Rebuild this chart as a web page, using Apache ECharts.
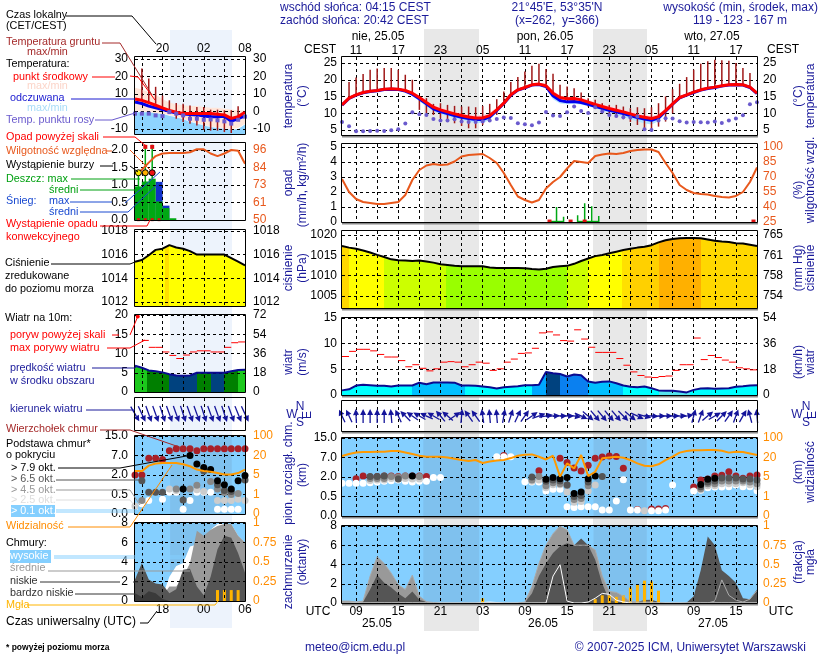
<!DOCTYPE html>
<html>
<head>
<meta charset="utf-8">
<title>meteorogram</title>
<script src="https://cdn.jsdelivr.net/npm/echarts@6/dist/echarts.min.js"></script>
<style>
html,body{margin:0;padding:0;background:#fff}
#main{width:820px;height:660px}
</style>
</head>
<body>
<div id="main"></div>
<script>
// --- short panel (left): idx 0 = 14 UTC ... idx 16 = 06 UTC
var leftGridIdx = [1,4,7,10,13];
var leftTickIdx = [4,10,16];
var leftCest = ['20','02','08'];
var leftUtc = ['18','00','06'];
// --- long panel (right): idx 0 = 07 UTC 25.05 ... idx 59 = 18 UTC 27.05
var rightGridIdx = [2,5,8,11,14,17,20,23,26,29,32,35,38,41,44,47,50,53,56];
var rightTickIdx = [2,8,14,20,26,32,38,44,50,56];
var rightCest = ['11','17','23','05','11','17','23','05','11','17'];
var rightUtc = ['09','15','21','03','09','15','21','03','09','15'];
var baseLabels = ['0.0','0.5','2.0','7.0','15.0'];   // five even steps of the height scale
var visLabels = ['0','1','5','20','100'];

// temperature
var tempL = [7,6.3,5,3.5,2,0.6,-0.5,-1.2,-1.2,-1.2,-1.2,-1.2,-1.6,-2,-4,-3,-0.5];
var feelL = [5.3,4.5,3,2,1,0.1,-1,-1.5,-1.8,-2,-2.7,-3,-3,-2.8,-5.6,-4.2,-2.5];
var tempHiL = [13.5,12.5,11,9.5,7,5,4,3.5,3,3,2.5,2,2,1.5,1,0.5,0.5];
var tempLoL = [0,0,-0.5,-1,-1.5,-2,-3,-4,-5.5,-6.5,-7.5,-8.5,-9,-9.5,-10,-9.5,-7];
var feelHiL = [-0.5,-0.5,-0.5,-1,-1.5,-2.5,-3.5,-4.5,-6,-7,-8,-9,-9.5,-10,-10.5,-10,-7.5];
var feelLoL = [-13,-13,-13,-13,-13,-13,-13,-13,-13,-13,-13,-13,-13,-13,-13,-13,-13];
var dewL = [-1.3,-1.3,-1.3,-2.3,-2.7,-0.4,-1.3,-2.3,-4.2,-4.2,-4.8,-4.6,-5.1,-5.7,-7,-4.8,-3];
var groundMaxL = [null,24.4,18.7,14,9,6.3,4.8,4.4,3.4,2.5,2.5,1,1,0.6,0.6,2.9,null];
var groundMinL = [null,7,5.3,4.3,2.5,-1.3,-4.2,-6,-7,-8,-10.5,-11,-11,-11.8,-12.4,-5.1,null];

var tempR = [12.5,14.5,15.5,16.2,16.6,16.8,17.2,17.3,17.2,16.8,16,14.7,13.2,11.8,11,10.4,9.8,9.3,8.9,8.6,8.6,9.3,11,13,15.5,17,17.7,18.5,18.7,18.2,16,14.7,14.3,14.4,14,13.3,12.6,12,11.4,10.9,10.4,9.8,9.2,8.8,8.4,9,10.8,12.8,14.7,15.5,16.3,17,17.5,17.8,18.2,18.5,18.6,18.5,17.8,16];
var feelR = [12.4,14.4,15.4,16.1,16.5,16.7,17.1,17.2,17.1,16.6,15.7,14.3,12.8,11.3,10.5,9.9,9.3,8.8,8.4,8.1,8.1,8.9,10.8,12.9,15.4,16.9,17.6,18.4,18.6,18,15.2,13.8,13.4,13.5,13.2,12.7,12.1,11.5,10.9,10.4,9.9,9.3,8.7,8.3,7.9,8.6,10.6,12.7,14.6,15.4,16.2,16.9,17.4,17.7,18.1,18.4,18.5,18.4,17.7,15.9];
var tempHiR = [13,15,16,16.6,17,17.2,17.5,17.6,17.5,17.1,16.4,15.2,13.9,12.6,11.8,11.2,10.6,10.1,9.7,9.4,9.5,10.2,11.7,13.6,16,17.4,18.1,18.9,19.1,18.8,16.8,15.2,14.9,15,14.6,14,13.3,12.7,12.2,11.7,11.2,10.6,10,9.6,9.2,9.8,11.5,13.3,15.1,15.9,16.6,17.3,17.8,18.1,18.5,18.8,18.9,18.8,18.2,16.3];
var feelLoR = [12.2,14.2,15.2,15.9,16.3,16.5,16.9,17,16.9,16.3,15.2,13.6,12,10.6,9.8,9.1,8.5,8,7.5,7.1,7.1,8,10.2,12.6,15.2,16.7,17.4,18.2,18.4,17.5,14.2,12.9,12.7,12.8,12.6,12.1,11.5,10.8,10.1,9.5,8.9,8.2,7.5,7,6.6,7.6,10.1,12.5,14.4,15.2,16,16.7,17.2,17.5,17.9,18.2,18.3,18.2,17.5,15.7];
var dewR = [7.4,6.1,4.6,4.6,4.7,4.8,4.7,4.9,5.2,6.9,10.3,9.7,9.5,8.3,7.8,7.8,8.2,7.5,7.4,7.4,7.5,7.8,8.3,8.7,8.6,7,6.7,6.4,7.2,10.4,9.3,9.2,10.3,12,10.7,10.1,11.8,10.5,9.5,9.2,8.8,8.7,9,5.2,5,7.8,8.5,8.4,7.6,7.2,7.4,7.3,7.2,7.5,7.1,7.8,8.4,9.4,12.7,13.3];
var groundMaxR = [null,19.3,20.7,21.7,23,23.4,23.5,23.5,23,21.5,20,14,14.5,12.8,13,12.5,12.2,12,12,11.8,12.2,12.8,14.2,16.5,19.3,20.8,22.5,24.2,24.8,23.2,21.8,18.5,18,17.5,16.2,14.5,14,13,12.5,12.5,12,11.5,11.8,11.5,11.8,13,15,17.2,18.8,20.8,23,24.8,25.5,26,25.8,25.7,25,23.5,22,null];
var groundMinR = [null,14.5,15.5,16.2,16.6,16.8,17.2,17.3,17.2,16.8,16,11,10,9.5,8.5,7.8,7,6.2,5.5,5.5,6.5,7.5,9.5,13,15.5,17,17.7,18.5,18.7,18.2,16,14.7,14.3,14.4,14,12,11.5,10.5,9.5,8.8,8.2,7.4,6.5,5.5,4.8,6,7.5,10,14.7,15.5,16.3,17,17.5,17.8,18.2,18.5,18.6,18.5,17.8,null];

// precipitation and humidity
var humL = [80.7,83,87.7,92,93.7,94,94,94,94.5,96.5,96.5,93.7,92,93.7,96,95.5,87];
var rainBarsL = [[0.5,0.96],[1.5,1.1],[2.5,1.18],[3.5,0.53],[4.5,0.34],[5.5,0.05]];
var snowBarsL = [[3.5,1.09],[4.5,0.41]];
var rainMaxL = [[0.5,1.35],[1.5,2.15],[2.5,2.15]];
var overScaleL = [[1.5,2.09],[2.5,2.09]];
var stormL = [[0.5,1.35,'#ffe600'],[1.5,1.35,'#ffb000'],[2.5,1.35,'#ee1111']];
var convL = [[0.5,0.01],[1.5,0.01],[2.5,0.01],[3.5,0.01]];
var humR = [68,55,48,45,44,43,43,44,45,52,67,77,81.5,83,82,82.5,85.5,90.5,92,92.5,93,89,84,74,62,50.5,47,44.5,47,58.5,65,70,78.5,86,85,84,91,92.5,93.5,93,94,96,97,97.5,97.5,95,84,74,62,57,54,53,52.5,51,50,49.5,51,55,65,79.5];
var rainMaxR = [[30.5,1],[31.5,0.35],[33.5,0.45],[34.5,1.25],[35.5,1.05],[36.5,0.4]];
var rainBarsR = [[30,0.08],[31,0.08],[34,0.08],[35,0.08],[36,0.08]];
var convR = [[29.5,0.03],[32.5,0.03],[34.5,0.03],[58.5,0.03]];

// pressure
var presL = [1015.4,1015.55,1015.95,1016.4,1016.5,1016.8,1016.6,1016.5,1016.3,1016,1016,1016,1016,1016,1015.7,1015.4,1015.1];
var presR = [1017.3,1016.9,1016.6,1016.2,1015.7,1015.1,1014.6,1014,1013.8,1013.7,1013.6,1013.7,1013.5,1013.2,1012.8,1012.6,1012.4,1012.3,1012.3,1012.3,1012.3,1012,1011.9,1011.9,1011.9,1011.9,1011.8,1011.6,1011.5,1011.7,1012.1,1012.3,1012.4,1012.9,1013.6,1014.2,1014.8,1015.1,1015.5,1015.9,1016.3,1016.6,1016.9,1017.1,1017.5,1018.2,1018.7,1019,1019.2,1019.3,1019.3,1019.2,1018.9,1018.6,1018.4,1018.3,1018,1017.9,1017.6,1017.3];

// wind
var windL = [6.8,6.3,5.6,5.4,5.1,4.6,4.3,4.2,4.3,5,5,5,5,5,5.4,5.7,5.8];
var gustL = [null,13.4,11.6,11.6,10.4,9.5,8.7,9.6,10.4,10.7,10.7,10.4,10.4,11.6,12.8,13];
var gustOverL = [[0.4,19.6]];
var windR = [0.9,1.1,1.85,2,1.9,1.8,1.8,1.65,1.85,1.85,1.85,2.4,2.1,2.45,2.45,2.45,2.4,1.85,1.85,1.8,1.65,1.5,1.25,1.5,1.6,1.7,1.9,1.9,2,4.5,4.25,4.1,3.6,4,3.85,2.65,2.4,2.6,2.65,2.3,1.85,1.6,1.5,1.65,1.3,0.9,0.85,0.85,0.7,0.5,1,1.25,1.3,1.2,1.25,1.3,1.6,1.7,1.85,1.9];
var gustR = [7.5,8.5,8.9,8.9,8.6,7.9,7.4,7.4,6.7,5.5,5.9,5.2,4.7,5.1,6.4,6.5,6.4,5.5,5.9,6.4,6.2,4.8,5.1,6.4,7,8.1,8.2,9.1,12.1,12.3,11.7,10.6,10.5,12.7,10.9,9.3,8.3,8.3,8.3,7.1,5.8,4.5,3.8,3.5,3.4,3.6,3.7,4.8,5.9,5.9,11.1,6.9,7.7,7.3,6.8,6.4,5.3,5.1,4.9];
var dirL = [150,155,160,160,162,160,160,162,160,160,162,160,160,162,160,158,155];
var dirR = [-25,-25,-3,0,0,0,0,-5,-25,-45,-55,-60,-65,-60,-40,-50,55,5,-35,-35,-8,-5,-5,10,18,25,35,55,70,80,85,87,90,100,115,130,140,140,140,140,135,130,115,105,95,90,88,88,85,80,15,20,50,60,45,35,20,30,-15,-5];

// cloud base levels (position on the five step height scale) and visibility
var visL = [2.2,2.2,2.48,2.59,2.62,2.62,2.62,2.55,2.45,2.28,2.2,2.17,2.1,2.03,2.03,2.1,2.28];
var visR = [3.08,3.18,3.26,3.28,3.28,3.3,3.3,3.33,3.33,3.26,3.18,3.09,3.04,3.04,3.04,3,2.94,2.87,2.82,2.87,2.72,2.8,2.85,2.87,2.97,3.09,3.14,3.16,3.04,2.9,3.09,2.02,2.7,2.44,3.13,2.05,2.27,2.96,3,3.04,2.99,2.87,2.7,2.58,2.55,2.65,2.87,3.04,3.25,3.33,3.37,3.37,3.38,3.38,3.35,3.25,3.3,3.28,3.21,3.13];
var topsL = [[0,2],[1,2],[2,2.86],[3,2.86],[4,2.79],[5,3.24],[6,3.34],[7,3.34],[8,3.34],[9,3.24],[10,3.34],[11,3.34],[12,3.34],[13,3.34],[14,3.34],[15,3.34],[16,3.34]];
var base79L = [[7,1.28],[8,3],[9,2.57],[10,2.38],[11,2.28],[12,1.71],[13,1.5],[14,1.28],[15,1.71],[16,1.97]];
var base65L = [[1,1.71],[2,1.12],[3,1.12],[4,1.12],[7,0.72],[10,2.2],[12,1.5],[13,1.2],[14,1.15],[16,1.75]];
var base45L = [[1,0.69],[6,1.28],[8,1.28],[9,1.47],[11,1.67],[12,1.28],[13,1.1],[14,1],[15,1.05]];
var base25L = [[0,0.41],[5,1.28],[6,1.2],[9,1.25],[10,1.15],[12,0.69],[13,0.69],[14,0.69],[15,0.76],[16,0.69]];
var base01L = [[1,0.52],[2,0.69],[4,0.76],[5,1.12],[6,1.12],[7,0.24],[8,0.69],[9,1.12],[10,1.12],[11,1.12],[12,0.24],[13,0.24],[14,0.24],[15,0.24]];
var topsR = [[2,1.91],[3,2.05],[4,2],[5,2.02],[6,2.05],[7,2.05],[8,2.02],[9,2.05],[10,2.05],[11,2.05],[12,2.02],[23,3.1],[28,2.32],[31,2.96],[32,2.74],[33,2.46],[34,2.31],[35,2.6],[36,2.96],[37,3.03],[38,3.08],[39,3.05],[40,2.45],[42,0.33],[44,0.36],[45,0.36],[46,0.39],[50,1.49],[51,1.85],[52,1.9],[53,2.05],[54,2.09],[55,2.27],[56,2.05],[57,1.93],[58,2.05],[59,2.1]];
var base79R = [[10,2.05],[29,1.88],[30,1.97],[31,1.91],[32,1.97],[33,1.16],[34,1.23],[35,1.91],[36,2.05],[51,1.62],[52,1.88],[53,1.93]];
var base65R = [[4,2.02],[5,2.02],[6,2.05],[8,1.9],[27,2],[29,1.78],[30,1.85],[31,1.8],[32,1.6],[33,1],[34,1.05],[35,1.75],[37,2.02],[51,1.5],[52,1.75],[53,1.8],[54,1.95],[55,1.95],[56,1.95],[57,1.9],[58,1.9],[59,1.85]];
var base45R = [[4,1.92],[5,1.92],[6,1.92],[7,2.02],[8,2],[9,2.05],[11,2.02],[27,1.85],[28,2.02],[29,1.55],[30,1.7],[31,1.66],[32,1.57],[33,0.85],[34,0.9],[35,1.55],[51,1.4],[52,1.65],[53,1.66],[54,1.8],[55,1.8],[56,1.8],[57,1.8],[58,1.75],[59,1.65]];
var base25R = [[4,1.82],[5,1.85],[6,1.85],[7,1.92],[8,1.9],[9,1.92],[10,1.9],[11,1.9],[27,1.78],[28,1.85],[29,1.45],[30,1.6],[31,1.6],[32,1.23],[33,0.7],[34,0.75],[35,1.28],[36,1.59],[43,0.27],[51,1.35],[52,1.55],[53,1.55],[54,1.66],[55,1.66],[56,1.66],[57,1.7],[58,1.6],[59,1.5]];
var base01R = [[0,1.68],[1,1.68],[2,1.68],[3,1.68],[4,1.71],[5,1.74],[6,1.78],[7,1.81],[8,1.85],[9,1.78],[10,1.74],[11,1.78],[12,1.78],[13,1.97],[14,1.97],[22,3.04],[23,3.04],[24,3.04],[26,1.76],[27,1.74],[28,1.74],[29,1.28],[30,1.37],[31,1.37],[32,0.48],[33,0.43],[34,0.48],[35,0.48],[36,0.48],[37,0.31],[38,0.31],[39,0.77],[40,1.86],[41,0.31],[42,0.31],[44,0.27],[45,0.27],[46,0.31],[47,1.59],[50,1.28],[51,1.32],[52,1.45],[53,1.49],[54,1.49],[55,1.5],[56,1.59],[57,1.5],[58,1.5],[59,1.3]];

// cloud cover (oktas) and mist fraction
var highL = [0,0,0,0,0.5,2.5,3.6,3.9,5.6,5.8,6,7.3,7.9,7.9,7.9,6.7,6];
var midL = [0,0,0,0,0.5,1.5,1.5,2.5,3.9,7.2,6.7,7.3,7.7,7.9,7.9,6.7,6];
var lowL = [2.2,3.9,2.2,1.8,1.7,0.8,1.2,3.2,3.3,1.5,0.6,2.5,5.3,6.7,6.5,4.9,2.9];
var veryLowL = [0.8,0.4,1,0.8,0.2,0,0,0,0,0,0,0,0,0,0,0,0];
var mistL = [[12,0.14],[13,0.14],[14,0.14],[15,0.14]];
var highR = [0,0,0,0,0,0,0,0,0,0,0,0,0,0,0,0,0,0,0,0,0.05,0.1,0.05,0,0,0,0,0,0,0,2.8,4,0.2,0,0,0.1,0.5,1,0.9,0.3,0.1,0,0,0,0,0,0,0,0,0,0,0,0,0,0,0,0,0,0,0];
var midR = [0.2,0.2,0.1,0.2,2.8,4.8,4.1,3.1,1.9,1.4,2.9,0.7,0.14,0.05,0,0,0,0,0,0,0,0,0,0,0,0,0.1,1.7,4.1,6,7.2,8,7.6,6,6,6,5.5,2.8,1.2,1.1,0.7,0.15,0.1,0.1,0.1,0,0,0,0,0,0,0,0,0.2,2.4,0.8,0.3,0.1,0.4,1.3];
var lowR = [0.1,0.1,0,0.1,1.4,2.9,2.1,1.6,1,0.5,1.2,0.35,0.1,0,0,0,0,0,0,0,0,0,0,0,0,0,0.05,1,2.8,4.1,5.2,5.9,6.2,6,6.7,6,4.5,2,0.3,0.1,0.1,0.1,0.1,0.3,0.35,0.1,0,0,0,0.05,0.7,3.4,6.9,6,3.4,2.8,2.1,0.5,0.4,1.4];
var mistR = [[20,0.06],[36,0.05],[37,0.1],[38,0.1],[39,0.08],[40,0.1],[41,0.2],[42,0.24],[43,0.29],[44,0.28],[45,0.16]];

// colour bands, [first idx, colour]
var presBandsL = [[0,'#ffff00'],[4.4,'#ffe000'],[5,'#ffff00']];
var presBandsR = [[0,'#ffd800'],[1,'#ffff00'],[6,'#ccff00'],[14.8,'#99ff00'],[32,'#ccff00'],[35,'#ffff00'],[39.8,'#ffe000'],[41,'#ffd000'],[45,'#ffb000'],[51,'#ffd800']];
var windBandsL = [[0,'#1cc81c'],[1.8,'#007f00'],[5,'#00427f'],[9,'#007f00'],[11,'#00427f'],[13,'#007f00'],[15,'#1cc81c']];
var windBandsR = [[0,'#00ffff'],[10,'#00bfff'],[17.5,'#00ffff'],[27,'#00a8ff'],[29,'#00427f'],[31,'#0a80f0'],[35,'#00bfff'],[40,'#00ffff'],[45,'#55e4ee'],[49.5,'#00ffff']];
// dark part of the day, [from idx, to idx]
var nightL = [[5.1,14.07]];
var nightR = [[11.56,19.49],[35.75,43.34]];

var FONT = '"Liberation Sans", Arial, sans-serif';
var NAVY = '#1a1a9a';
var ORANGE = '#ff8c00';
var HUM = '#e8581c';
function whole(v){ return String(Math.floor(v)); }
function oneDec(v){ return v.toFixed(1); }
function fromList(list){ return function(v){ return list[v]; }; }

var panels = {
  lT:{left:135,right:245,top:57,bottom:134,n:16,yMin:-12.9,yMax:31,yTicks:[-10,0,10,20,30],labels:leftCest,pos:'top'},
  lR:{left:135,right:245,top:143,bottom:220,n:16,yMin:0,yMax:2.2,yTicks:[0,0.5,1,1.5,2],yFmt:oneDec,y2Min:50,y2Max:100.6,y2Ticks:[50,61.5,73,84.5,96],y2Color:HUM},
  lP:{left:135,right:245,top:230,bottom:306,n:16,yMin:1011.66,yMax:1018.08,yTicks:[1012,1014,1016,1018]},
  lW:{left:135,right:245,top:315,bottom:392,n:16,yMin:0,yMax:20,yTicks:[0,5,10,15,20],y2Min:0,y2Max:72,y2Ticks:[0,18,36,54,72]},
  lD:{left:135,right:245,top:398,bottom:430,n:16,yMin:-1,yMax:1,noY:true},
  lB:{left:135,right:245,top:436,bottom:514,n:16,yMin:0,yMax:4,yTicks:[0,1,2,3,4],yFmt:fromList(baseLabels),y2Min:0,y2Max:4,y2Ticks:[0,1,2,3,4],y2Fmt:fromList(visLabels),y2Color:ORANGE,sky:true},
  lC:{left:135,right:245,top:523,bottom:601,n:16,yMin:0,yMax:8,yTicks:[0,2,4,6,8],y2Min:0,y2Max:1,y2Ticks:[0,0.25,0.5,0.75,1],y2Fmt:String,y2Color:ORANGE,sky:true,labels:leftUtc,pos:'bottom'},
  rT:{left:342,right:757,top:57,bottom:135,n:59,yMin:3.5,yMax:26.8,yTicks:[5,10,15,20,25],labels:rightCest,pos:'top'},
  rR:{left:342,right:757,top:144,bottom:222,n:59,yMin:0,yMax:5.2,yTicks:[0,1,2,3,4,5],y2Min:25,y2Max:103,y2Ticks:[25,40,55,70,85,100],y2Color:HUM},
  rP:{left:342,right:757,top:231,bottom:308,n:59,yMin:1002,yMax:1021,yTicks:[1005,1010,1015,1020],y2Min:751.56,y2Max:765.81,y2Ticks:[753.8,757.6,761.3,765.06],y2Fmt:function(v){return String(Math.round(v));}},
  rW:{left:342,right:757,top:318,bottom:395,n:59,yMin:0,yMax:15,yTicks:[0,5,10,15],y2Min:0,y2Max:54,y2Ticks:[0,18,36,54]},
  rD:{left:342,right:757,top:401,bottom:431,n:59,yMin:-1,yMax:1,noY:true},
  rB:{left:342,right:757,top:438,bottom:516,n:59,yMin:0,yMax:4,yTicks:[0,1,2,3,4],yFmt:fromList(baseLabels),y2Min:0,y2Max:4,y2Ticks:[0,1,2,3,4],y2Fmt:fromList(visLabels),y2Color:ORANGE,sky:true},
  rC:{left:342,right:757,top:526,bottom:603,n:59,yMin:0,yMax:8,yTicks:[0,2,4,6,8],y2Min:0,y2Max:1,y2Ticks:[0,0.25,0.5,0.75,1],y2Fmt:String,y2Color:ORANGE,sky:true,labels:rightUtc,pos:'bottom'}
};

var grids = [], xAxes = [], yAxes = [], series = [], elements = [];
Object.keys(panels).forEach(function(key, i){
  var p = panels[key];
  var isLeft = key.charAt(0) == 'l';
  p.i = i;
  var gridIdx = isLeft ? leftGridIdx : rightGridIdx;
  var tickIdx = isLeft ? leftTickIdx : rightTickIdx;
  grids.push({left:p.left,top:p.top,width:p.right-p.left,height:p.bottom-p.top,show:!!p.sky,backgroundColor:'#84cfff',borderWidth:0});
  xAxes.push({
    gridIndex:i,type:'value',min:0,max:p.n,position:p.pos||'bottom',z:3,silent:true,
    axisLine:{show:false},
    axisTick:{show:false,customValues:gridIdx},
    splitLine:{show:true,lineStyle:{type:[3,3],color:'#000',width:1}},
    axisLabel:p.labels ? {
      show:true,customValues:tickIdx,margin:p.pos=='top'?(isLeft?2:0):3,fontFamily:FONT,fontSize:12,color:'#000',
      formatter:function(v){ return p.labels[tickIdx.indexOf(v)]; }
    } : {show:false}
  });
  var mar1 = isLeft ? 7 : 5, mar2 = isLeft ? 8 : 6;
  yAxes.push({
    gridIndex:i,type:'value',min:p.yMin,max:p.yMax,position:'left',z:3,silent:true,
    axisLine:{show:false},
    axisTick:{show:false,customValues:p.yTicks||[]},
    splitLine:{show:!p.noY,lineStyle:{type:[3,3],color:'#000',width:1}},
    axisLabel:p.noY ? {show:false} : {show:true,customValues:p.yTicks,margin:mar1,fontFamily:FONT,fontSize:12,color:'#000',formatter:p.yFmt||String}
  });
  var t2 = p.y2Ticks || p.yTicks;
  yAxes.push({
    gridIndex:i,type:'value',min:p.y2Min!==undefined?p.y2Min:p.yMin,max:p.y2Max!==undefined?p.y2Max:p.yMax,position:'right',z:3,silent:true,
    axisLine:{show:false},axisTick:{show:false},splitLine:{show:false},
    axisLabel:p.noY ? {show:false} : {show:true,customValues:t2,margin:mar2,fontFamily:FONT,fontSize:12,color:p.y2Color||'#000',formatter:p.y2Fmt||(p.y2Ticks?whole:String)}
  });
  // panel frame above the fills
  elements.push({type:'rect',z:10,silent:true,shape:{x:p.left-0.5,y:p.top-0.5,width:p.right-p.left+1,height:p.bottom-p.top+1},style:{fill:null,stroke:'#000',lineWidth:1}});
  if(!isLeft){
    elements.push({type:'line',z:9,silent:true,shape:{x1:p.left,y1:p.bottom+1.5,x2:p.right+1,y2:p.bottom+1.5},style:{stroke:'#888',lineWidth:2}});
  }
});

function pairs(arr){ return arr.map(function(v,i){ return [i,v]; }); }
function axisRef(p, second){ return {xAxisIndex:p.i,yAxisIndex:p.i*2+(second?1:0)}; }
function addLine(p, arr, color, width, second){
  series.push(Object.assign(axisRef(p,second),{type:'line',data:pairs(arr),showSymbol:false,symbol:'none',z:5,silent:true,lineStyle:{color:color,width:width}}));
}
function addArea(p, arr, fill, z){
  series.push(Object.assign(axisRef(p),{type:'line',data:pairs(arr),showSymbol:false,symbol:'none',z:z||1,silent:true,lineStyle:{width:0},areaStyle:{color:fill,opacity:1,origin:'start'}}));
}
function addBand(p, lo, hi, fill){
  series.push(Object.assign(axisRef(p),{
    type:'custom',z:1,clip:true,silent:true,data:[[0,lo[0]]],
    renderItem:function(params, api){
      var pts = [], i;
      for(i=0;i<hi.length;i++) pts.push(api.coord([i,hi[i]]));
      for(i=lo.length-1;i>=0;i--) pts.push(api.coord([i,lo[i]]));
      return {type:'polygon',shape:{points:pts},style:{fill:fill}};
    }
  }));
}
function addSpans(p, spans, fill){
  series.push(Object.assign(axisRef(p),{
    type:'custom',z:0,clip:true,silent:true,encode:{x:[0,1],y:2},
    data:spans.map(function(s){ return [s[0],s[1],p.yMin]; }),
    renderItem:function(params, api){
      var a = api.coord([api.value(0),p.yMax]), b = api.coord([api.value(1),p.yMin]);
      return {type:'rect',shape:{x:a[0],y:a[1],width:b[0]-a[0],height:b[1]-a[1]},style:{fill:fill}};
    }
  }));
}
// [x0,y0,x1,y1] segments: ground temp ranges, gust dashes, rain stems
function addSegs(p, segs, color, width, z){
  series.push(Object.assign(axisRef(p),{
    type:'custom',z:z||4,clip:true,silent:true,encode:{x:[0,2],y:[1,3]},data:segs,
    renderItem:function(params, api){
      var a = api.coord([api.value(0),api.value(1)]), b = api.coord([api.value(2),api.value(3)]);
      return {type:'line',shape:{x1:a[0],y1:a[1],x2:b[0],y2:b[1]},style:{stroke:color,lineWidth:width}};
    }
  }));
}
function addDots(p, data, color, size, symbol, second, z){
  series.push(Object.assign(axisRef(p,second),{type:'scatter',data:data,symbol:symbol||'circle',symbolSize:size,z:z||4,silent:true,clip:true,itemStyle:{color:color,opacity:1}}));
}
function addBars(p, data, color, width, second){
  series.push(Object.assign(axisRef(p,second),{type:'bar',data:data,barWidth:width,barGap:'-100%',z:2,silent:true,clip:true,itemStyle:{color:color}}));
}
function addArrows(p, dirs, len){
  series.push(Object.assign(axisRef(p),{
    type:'custom',z:6,clip:false,silent:true,encode:{x:0,y:2},
    data:dirs.map(function(d,i){ return [i,d,0]; }),
    renderItem:function(params, api){
      var c = api.coord([api.value(0),0]), a = api.value(1)*Math.PI/180;
      var dx = Math.sin(a), dy = -Math.cos(a), h = len/2;
      var tail = [c[0]-dx*h,c[1]-dy*h], tip = [c[0]+dx*h,c[1]+dy*h];
      var neck = [tip[0]-dx*6,tip[1]-dy*6];
      return {type:'group',children:[
        {type:'line',shape:{x1:tail[0],y1:tail[1],x2:neck[0],y2:neck[1]},style:{stroke:'#14149a',lineWidth:1.3}},
        {type:'polygon',shape:{points:[tip,[neck[0]-dy*3,neck[1]+dx*3],[neck[0]+dy*3,neck[1]-dx*3]]},style:{fill:'#14149a'}}
      ]};
    }
  }));
}
function rangeSegs(lo, hi){
  var out = [];
  hi.forEach(function(v,i){ if(v!==null) out.push([i,lo[i],i,v]); });
  return out;
}
function dashSegs(arr){
  var out = [];
  arr.forEach(function(v,i){ if(v!==null) out.push([i,v,i+1,v]); });
  return out;
}
function stemSegs(arr){ return arr.map(function(d){ return [d[0],0,d[0],d[1]]; }); }
function bandFill(bands, n){
  var stops = [];
  bands.forEach(function(b,k){
    var end = k+1<bands.length ? bands[k+1][0] : n;
    stops.push({offset:b[0]/n,color:b[1]},{offset:end/n,color:b[1]});
  });
  return new echarts.graphic.LinearGradient(0,0,1,0,stops);
}

var P = panels;
// temperature
addBand(P.lT,tempLoL,tempHiL,'#ffe6da');
addBand(P.lT,feelLoL,feelHiL,'#8ed4ff');
addSegs(P.lT,rangeSegs(groundMinL,groundMaxL),'#a01818',1.5);
addLine(P.lT,feelL,'#0000ee',3);
addLine(P.lT,tempL,'#ff0000',3);
addDots(P.lT,pairs(dewL),'#6a5acd',4,'rect',false,6);
addBand(P.rT,tempR,tempHiR,'#ffd8e0');
addBand(P.rT,feelLoR,feelR,'#b4e4ff');
addSegs(P.rT,rangeSegs(groundMinR,groundMaxR),'#a01818',1.5);
addLine(P.rT,feelR,'#0000ee',3);
addLine(P.rT,tempR,'#ff0000',3);
addDots(P.rT,pairs(dewR),'#6a5acd',4,'circle',false,6);
// precipitation
addBars(P.lR,snowBarsL,'#1030c8',7);
addBars(P.lR,rainBarsL,'#00a814',7);
addSegs(P.lR,stemSegs(rainMaxL),'#00a814',1.5);
addDots(P.lR,overScaleL,'#e01010',4,'rect');
addDots(P.lR,convL,'#e01010',3,'rect',false,6);
stormL.forEach(function(s){
  series.push(Object.assign(axisRef(P.lR),{type:'scatter',data:[[s[0],s[1]]],symbolSize:6,z:7,silent:true,itemStyle:{color:s[2],borderColor:'#000',borderWidth:1,opacity:1}}));
});
addLine(P.lR,humL,HUM,2,true);
addBars(P.rR,rainBarsR,'#00a814',7);
addSegs(P.rR,stemSegs(rainMaxR),'#00a814',1.5);
addDots(P.rR,convR,'#e01010',4,'rect',false,6);
addLine(P.rR,humR,HUM,2,true);
// pressure
addArea(P.lP,presL,bandFill(presBandsL,16));
addLine(P.lP,presL,'#000',2);
addArea(P.rP,presR,bandFill(presBandsR,59));
addLine(P.rP,presR,'#000',2);
// wind
addArea(P.lW,windL,bandFill(windBandsL,16));
addLine(P.lW,windL,'#0a0a90',2);
addSegs(P.lW,dashSegs(gustL),'#ff0000',1);
addDots(P.lW,gustOverL,'#ff0000',4,'circle');
addArea(P.rW,windR,bandFill(windBandsR,59));
addLine(P.rW,windR,'#0a0a90',2);
addSegs(P.rW,dashSegs(gustR),'#ff0000',1);
addArrows(P.lD,dirL,17);
addArrows(P.rD,dirR,14);
// cloud base
function addBases(p, night, tops, b79, b65, b45, b25, b01, vis){
  addSpans(p,night,'rgba(100,100,120,0.13)');
  addDots(p,tops,'#a82028',7);
  addDots(p,b01,'#ffffff',7);
  addDots(p,b25,'#cccccc',7);
  addDots(p,b45,'#888888',7);
  addDots(p,b65,'#555555',7);
  addDots(p,b79,'#000000',7);
  addLine(p,vis,'#ff9900',2);
}
addBases(P.lB,nightL,topsL,base79L,base65L,base45L,base25L,base01L,visL);
addBases(P.rB,nightR,topsR,base79R,base65R,base45R,base25R,base01R,visR);
// clouds
addSpans(P.lC,nightL,'rgba(100,100,120,0.13)');
addArea(P.lC,highL,'#ffffff');
addArea(P.lC,midL,'#999999');
addArea(P.lC,lowL,'#555555');
addArea(P.lC,veryLowL,'#3a3a3a');
addBars(P.lC,mistL,'#ffb400',3,true);
addSpans(P.rC,nightR,'rgba(100,100,120,0.13)');
addArea(P.rC,highR,'#ffffff');
addArea(P.rC,midR,'#999999');
addArea(P.rC,lowR,'#555555');
addLine(P.rC,highR,'#ffffff',1);
addLine(P.rC,midR,'#aaaaaa',1);
addBars(P.rC,mistR,'#ffb400',3,true);

// page backdrops behind the panels
elements.push({type:'rect',z:-5,silent:true,shape:{x:170,y:30,width:62,height:598},style:{fill:'#edf3fc'}});
elements.push({type:'rect',z:-5,silent:true,shape:{x:424,y:29,width:55,height:602},style:{fill:'#e8e8e8'}});
elements.push({type:'rect',z:-5,silent:true,shape:{x:593,y:29,width:54,height:602},style:{fill:'#e8e8e8'}});

function txt(text, x, y, color, align, size, rot, weight){
  elements.push({type:'text',x:x,y:y,rotation:rot||0,z:12,silent:true,style:{
    text:text,fill:color||'#000',align:align||'left',verticalAlign:'middle',textAlign:align||'left',textVerticalAlign:'middle',
    font:(weight?weight+' ':'')+(size||12)+'px '+FONT
  }});
}
// left legend wording runs a little narrower than the header
function leg(text, x, y, color){ txt(text,x,y,color,'left',10.8); }
function lead(points, color, width){
  elements.push({type:'polyline',z:11,silent:true,shape:{points:points},style:{stroke:color,lineWidth:width||1,fill:null}});
}
var BROWN = '#a52a2a', RED = '#ff0000', BLUE = '#1a1ad0', GREEN = '#00a010', SLATE = '#6a5acd', SNOW = '#1a4ad0';

// left legend
leg('Czas lokalny',6,15);
leg('(CET/CEST)',6,26);
lead([[66,16],[132,16],[156,44]],'#000');
leg('Temperatura gruntu',6,42,BROWN);
leg('max/min',27,52,BROWN);
lead([[102,43],[120,43],[152,95]],BROWN);
leg('Temperatura:',6,64);
leg('punkt środkowy',13,77,RED);
lead([[92,77],[115,77]],RED);
lead([[130,76],[138,77],[155,100]],RED);
leg('max/min',27,86,'#fcd5c9');
leg('odczuwana',10,98,BLUE);
lead([[71,99],[135,99]],BLUE);
leg('max/min',27,108,'#a8dcf8');
leg('Temp. punktu rosy',6,120,SLATE);
lead([[95,120],[112,120],[135,113]],SLATE);
leg('Opad powyżej skali',6,137,RED);
lead([[103,137],[135,137],[146,146]],RED);
leg('Wilgotność względna',6,151,HUM);
lead([[106,151],[112,151]],HUM);
lead([[130,150],[150,170]],HUM);
leg('Wystąpienie burzy',6,165);
lead([[100,166],[113,166]],'#000');
lead([[130,166],[138,172]],'#000');
leg('Deszcz: max',6,179,GREEN);
lead([[71,179],[140,179]],GREEN);
leg('średni',49,190,GREEN);
lead([[80,190],[145,190]],GREEN);
leg('Śnieg:',6,201,SNOW);
leg('max',49,201,SNOW);
lead([[70,202],[112,202]],SNOW);
lead([[125,203],[160,172]],SNOW);
leg('średni',49,212,SNOW);
lead([[80,212],[128,212],[160,182]],SNOW);
leg('Wystąpienie opadu',6,224,RED);
lead([[100,226],[147,226],[150,220]],RED);
leg('konwekcyjnego',6,237,RED);
leg('Ciśnienie',5,263);
lead([[51,264],[130,264],[135,262]],'#000');
leg('zredukowane',5,276);
leg('do poziomu morza',5,289);
leg('Wiatr na 10m:',5,318);
leg('poryw powyżej skali',10,335,RED);
lead([[112,335],[119,335]],RED);
lead([[130,335],[138,316]],RED);
leg('max porywy wiatru',10,348,RED);
lead([[107,348],[130,348],[145,340]],RED);
leg('prędkość wiatru',10,368,NAVY);
lead([[92,368],[135,368],[137,366]],NAVY);
leg('w środku obszaru',10,381,NAVY);
leg('kierunek wiatru',10,409,NAVY);
lead([[86,410],[135,410]],NAVY);
leg('Wierzchołek chmur',6,429,BROWN);
lead([[100,430],[130,430],[185,449]],BROWN);
leg('Podstawa chmur*',6,444);
leg('o pokryciu',6,455);
leg('> 7.9 okt.',11,468);
lead([[58,468],[120,468],[192,455]],'#000');
leg('> 6.5 okt.',11,479,'#555');
lead([[56,480],[143,480]],'#555');
leg('> 4.5 okt.',11,490,'#999');
lead([[56,490],[130,490],[140,505]],'#999');
leg('> 2.5 okt.',11,500,'#ddd');
lead([[56,500],[130,500],[138,510]],'#ddd');
elements.push({type:'rect',z:11,silent:true,shape:{x:11,y:505,width:44,height:12},style:{fill:'#84cfff'}});
leg('> 0.1 okt.',11,511,'#fff');
lead([[56,510],[135,510]],'#84cfff');
lead([[56,512],[135,512]],'#84cfff');
leg('Widzialność',6,526,ORANGE);
lead([[68,527],[130,527],[172,465]],ORANGE);
leg('Chmury:',6,543);
elements.push({type:'rect',z:11,silent:true,shape:{x:10,y:550,width:41,height:13},style:{fill:'#84cfff'}});
leg('wysokie',10,556,'#fff');
lead([[54,556],[185,556]],'#84cfff');
lead([[54,558],[185,558]],'#84cfff');
leg('średnie',10,568,'#999');
lead([[48,571],[190,571]],'#999');
leg('niskie',10,581,'#333');
lead([[40,582],[120,582]],'#333');
lead([[133,582],[138,582]],'#333');
leg('bardzo niskie',10,593,'#333');
lead([[75,594],[135,594]],'#333');
leg('Mgła',6,605,'#ffb400');
lead([[27,605],[215,605],[218,601]],'#ffb400');
txt('Czas uniwersalny (UTC)',6,622);
lead([[140,623],[148,623],[157,611]],'#000');
txt('* powyżej poziomu morza',6,648,'#000','left',8.5,0,'bold');

// header
txt('wschód słońca: 04:15 CEST',280,8,NAVY);
txt('zachód słońca: 20:42 CEST',280,21,NAVY);
txt("21°45'E, 53°35'N",557,8,NAVY,'center');
txt('(x=262,  y=366)',557,21,NAVY,'center');
txt('wysokość (min, środek, max)',818,8,NAVY,'right');
txt('119 - 123 - 167 m',740,21,NAVY,'center');
txt('nie, 25.05',378,37,'#000','center');
txt('pon, 26.05',545,37,'#000','center');
txt('wto, 27.05',712,37,'#000','center');
txt('CEST',320,50,'#000','center');
txt('CEST',783,50,'#000','center');
txt('UTC',318,612,'#000','center');
txt('UTC',781,612,'#000','center');
txt('25.05',377,624,'#000','center');
txt('26.05',543,624,'#000','center');
txt('27.05',713,624,'#000','center');
txt('meteo@icm.edu.pl',355,648,NAVY,'center');
txt('© 2007-2025 ICM, Uniwersytet Warszawski',806,648,NAVY,'right');

// rotated axis titles
var UP = Math.PI/2;
txt('temperatura',289,96,NAVY,'center',12,UP);
txt('(°C)',303,96,NAVY,'center',12,UP);
txt('(°C)',799,96,NAVY,'center',12,UP);
txt('temperatura',811,96,NAVY,'center',12,UP);
txt('opad',289,183,NAVY,'center',12,UP);
txt('(mm/h, kg/m²/h)',303,185,NAVY,'center',12,UP);
txt('(%)',799,190,NAVY,'center',12,UP);
txt('wilgotność wzgl.',811,180,NAVY,'center',12,UP);
txt('ciśnienie',289,268,NAVY,'center',12,UP);
txt('(hPa)',303,268,NAVY,'center',12,UP);
txt('(mm Hg)',799,268,NAVY,'center',12,UP);
txt('ciśnienie',811,268,NAVY,'center',12,UP);
txt('wiatr',289,362,NAVY,'center',12,UP);
txt('(m/s)',303,362,NAVY,'center',12,UP);
txt('(km/h)',799,362,NAVY,'center',12,UP);
txt('wiatr',811,362,NAVY,'center',12,UP);
txt('pion. rozciągł. chm.',289,473,NAVY,'center',12,UP);
txt('(km)',303,475,NAVY,'center',12,UP);
txt('(km)',799,472,NAVY,'center',12,UP);
txt('widzialność',811,472,NAVY,'center',12,UP);
txt('zachmurzenie',289,572,NAVY,'center',12,UP);
txt('(oktanty)',303,562,NAVY,'center',12,UP);
txt('(frakcja)',799,562,NAVY,'center',12,UP);
txt('mgła',811,562,NAVY,'center',12,UP);

// compass letters
txt('W',292,415,NAVY,'center',12);
txt('N',300,407,NAVY,'center',12);
txt('S',300,423,NAVY,'center',12);
txt('E',308,415,NAVY,'center',12,UP);
txt('W',797,415,NAVY,'center',12);
txt('N',806,407,NAVY,'center',12);
txt('S',806,423,NAVY,'center',12);
txt('E',813,415,NAVY,'center',12,UP);

var chart = echarts.init(document.getElementById('main'),null,{renderer:'canvas'});
chart.setOption({
  animation:false,
  backgroundColor:'#fff',
  textStyle:{fontFamily:FONT},
  grid:grids,
  xAxis:xAxes,
  yAxis:yAxes,
  series:series,
  graphic:{elements:elements}
});
</script>
</body>
</html>
